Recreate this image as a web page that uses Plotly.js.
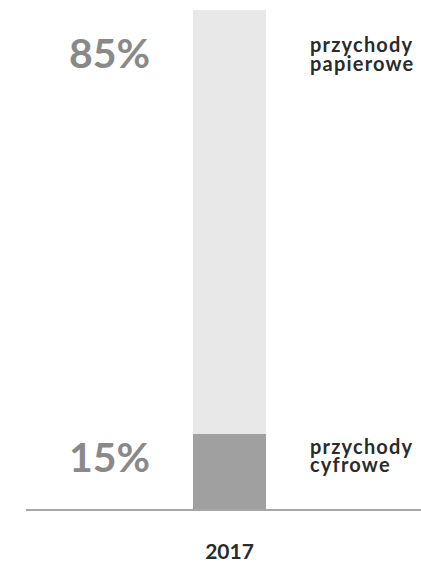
<!DOCTYPE html>
<html>
<head>
<meta charset="utf-8">
<script src="https://cdn.plot.ly/plotly-3.0.1.min.js"></script>
<style>
html,body{margin:0;padding:0;background:#fff;}
#chart{width:421px;height:566px;}
.spaced text{letter-spacing:1.2px;}
</style>
</head>
<body>
<div id="chart"></div>
<script>
const years = ["2017"];
const digitalShare = [15];
const paperShare = [85];
const digitalLabel = ["przychody", "cyfrowe"];
const paperLabel = ["przychody", "papierowe"];
const pctLabels = ["15%", "85%"];

const FONT = "Lato, 'Open Sans', sans-serif";

const traces = [
  {type: "bar", x: [0], y: digitalShare, width: 1, marker: {color: "#a0a0a0"}, hoverinfo: "skip"},
  {type: "bar", x: [0], y: paperShare, width: 1, marker: {color: "#e8e8e8"}, hoverinfo: "skip"}
];

function py(pix) { return (509 - pix) / 499; }

const labelFont = {family: FONT, size: 20, color: "#2b2b2b"};
function lineAnn(txt, pix) {
  return {xref: "x", yref: "paper", x: 1.087, y: py(pix), text: "<b>" + txt + "</b>", showarrow: false,
          xanchor: "left", yanchor: "middle", align: "left", font: labelFont, borderpad: 0};
}

const layout = {
  width: 421, height: 566,
  margin: {l: 26, r: 0, t: 10, b: 57},
  barmode: "stack",
  showlegend: false,
  paper_bgcolor: "#fff", plot_bgcolor: "#fff",
  font: {family: FONT},
  xaxis: {
    range: [-2.782, 2.618],
    tickvals: [0], ticktext: years,
    showgrid: false, zeroline: false,
    showline: true, linecolor: "#a6a6a6", linewidth: 2,
    ticks: "", ticklabelstandoff: 23,
    tickfont: {family: FONT, size: 21, color: "#2b2b2b", weight: "bold"},
    fixedrange: true
  },
  yaxis: {
    range: [0, 100],
    showgrid: false, zeroline: false, showline: false,
    showticklabels: false, ticks: "", fixedrange: true
  },
  annotations: [
    {xref: "x", yref: "paper", x: -1.64, y: py(52.5), text: "<b>" + pctLabels[1] + "</b>", showarrow: false,
     xanchor: "center", yanchor: "middle", font: {family: FONT, size: 41, color: "#898989"}},
    {xref: "x", yref: "paper", x: -1.64, y: py(456), text: "<b>" + pctLabels[0] + "</b>", showarrow: false,
     xanchor: "center", yanchor: "middle", font: {family: FONT, size: 41, color: "#898989"}},
    lineAnn(paperLabel[0], 44),
    lineAnn(paperLabel[1], 62.5),
    lineAnn(digitalLabel[0], 445.5),
    lineAnn(digitalLabel[1], 464)
  ]
};

Plotly.newPlot("chart", traces, layout, {displayModeBar: false, staticPlot: true}).then(function () {
  document.querySelectorAll("#chart .annotation").forEach(function (g, i) {
    if (i >= 2) g.classList.add("spaced");
  });
});
</script>
</body>
</html>
